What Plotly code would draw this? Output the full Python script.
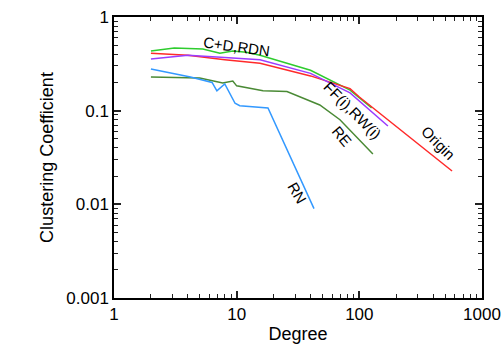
import plotly.graph_objects as go

# C+D, RDN (bright green)
cd_x = [2, 3.1, 5.3, 7.3, 9.3, 12, 15.5, 40, 84, 126]
cd_y = [0.434, 0.467, 0.455, 0.41, 0.434, 0.42, 0.39, 0.27, 0.166, 0.107]

# Origin (red)
orig_x = [2, 4, 8, 15.5, 40, 84, 100, 570]
orig_y = [0.41, 0.39, 0.35, 0.32, 0.235, 0.172, 0.14, 0.0227]

# FF(i), RW(i) (purple)
ff_x = [2, 4, 8, 15.5, 40, 84, 171]
ff_y = [0.357, 0.39, 0.37, 0.35, 0.25, 0.155, 0.0687]

# RE (dark green)
re_x = [2, 5, 7.7, 9.3, 10, 16.4, 25.7, 47.6, 69.5, 129]
re_y = [0.229, 0.223, 0.197, 0.207, 0.184, 0.163, 0.16, 0.115, 0.08, 0.0345]

# RN (blue)
rn_x = [2, 3, 4.2, 6.3, 6.9, 8.0, 9.7, 10.6, 18, 42.7]
rn_y = [0.278, 0.25, 0.229, 0.2, 0.163, 0.193, 0.12, 0.113, 0.107, 0.009]

FONT = "Liberation Sans, Arial, sans-serif"

fig = go.Figure()
series = [
    (cd_x, cd_y, "#2ecc2e", "C+D,RDN"),
    (orig_x, orig_y, "#ff2a2a", "Origin"),
    (ff_x, ff_y, "#9b3cff", "FF(i),RW(i)"),
    (re_x, re_y, "#4a8a35", "RE"),
    (rn_x, rn_y, "#3399ff", "RN"),
]
for xs, ys, col, name in series:
    fig.add_trace(go.Scatter(x=xs, y=ys, mode="lines", name=name,
                             line=dict(color=col, width=1.5), showlegend=False))

labels = [
    ("C+D,RDN", 1.0, -0.32, 8),
    ("FF(i),RW(i)", 1.948, -0.993, 45),
    ("Origin", 2.64, -1.345, 45),
    ("RE", 1.858, -1.28, 50),
    ("RN", 1.49, -1.878, 60),
]
for txt, lx, ly, ang in labels:
    fig.add_annotation(x=lx, y=ly, text=txt, showarrow=False, textangle=ang,
                       font=dict(family=FONT, size=15, color="black"))

axis_common = dict(
    type="log", showgrid=False, zeroline=False,
    showline=True, linecolor="black", linewidth=1.5, mirror="ticks",
    ticks="inside", ticklen=7, tickcolor="#222222", tickwidth=1.5,
    dtick=1, exponentformat="none",
    minor=dict(ticks="inside", ticklen=4, tickcolor="#222222", tickwidth=1.2),
    tickfont=dict(family=FONT, size=17, color="black"),
)

fig.update_xaxes(range=[0, 3],
                 title=dict(text="Degree", font=dict(family=FONT, size=18, color="black"), standoff=4),
                 **axis_common)
fig.update_yaxes(range=[-3, 0],
                 title=dict(text="Clustering Coefficient", font=dict(family=FONT, size=18, color="black"), standoff=8),
                 **axis_common)

fig.update_layout(
    template="none",
    width=503, height=354,
    margin=dict(l=114, r=21, t=17, b=56),
    plot_bgcolor="white", paper_bgcolor="white",
    font=dict(family=FONT, color="black"),
)

fig.write_html("out.html", config={"displayModeBar": False},
               post_script="document.body.style.margin='0';document.body.style.padding='0';")
